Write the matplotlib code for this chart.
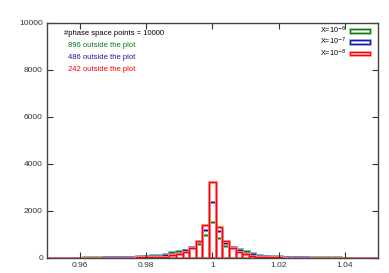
import numpy as np
import matplotlib
matplotlib.use("Agg")
import matplotlib.pyplot as plt
from matplotlib.patches import Patch
from matplotlib.legend_handler import HandlerTuple

plt.rcParams['font.family'] = ['Liberation Sans', 'DejaVu Sans']

# bin centres, width 0.002, from 0.950 to 1.050
bin_width = 0.002
centers = np.round(0.95 + bin_width * np.arange(51), 3)

counts_1e6 = [10, 11, 12, 14, 16, 18, 21, 24, 28, 32, 37, 43, 50, 60, 72, 88, 110, 140,
              180, 255, 310, 355, 470, 595, 980, 1510, 870, 510, 470, 370, 300, 210, 140,
              105, 85, 70, 60, 50, 44, 38, 33, 29, 26, 23, 21, 19, 17, 15, 14, 13, 12]
counts_1e7 = [8, 9, 10, 11, 12, 14, 16, 18, 20, 23, 27, 32, 38, 45, 54, 65, 80, 95,
              115, 155, 225, 325, 480, 680, 1190, 2380, 1150, 625, 455, 340, 225, 155, 100,
              75, 60, 48, 40, 34, 28, 24, 20, 18, 16, 14, 12, 11, 10, 9, 8, 8, 7]
counts_1e8 = [4, 4, 5, 5, 6, 6, 7, 8, 9, 10, 12, 14, 16, 19, 23, 28, 35, 44,
              55, 113, 185, 270, 410, 735, 1400, 3240, 1330, 710, 425, 270, 170, 100, 55,
              40, 30, 24, 20, 16, 14, 12, 10, 9, 8, 7, 6, 6, 5, 5, 4, 4, 4]

labels = ["X=10$^{-6}$", "X=10$^{-7}$", "X=10$^{-8}$"]
outside = [896, 486, 242]
n_points = 10000
dark = ["#137a13", "#1c1ca0", "#ff0000"]
light = ["#86c286", "#8c8cd6", "#ff8c8c"]

fig = plt.figure(figsize=(3.89, 2.73), dpi=100)
ax = fig.add_axes([0.121, 0.055, 0.850, 0.861])

handles = []
for counts, dc, lc in zip([counts_1e6, counts_1e7, counts_1e8], dark, light):
    ax.bar(centers, counts, width=bin_width, fill=False, edgecolor=lc, linewidth=2.0)
    ax.bar(centers, counts, width=bin_width, fill=False, edgecolor=dc, linewidth=0.9)
    handles.append((Patch(facecolor="none", edgecolor=lc, linewidth=1.8),
                    Patch(facecolor="none", edgecolor=dc, linewidth=0.8)))

ax.set_xlim(0.95, 1.05)
ax.set_ylim(0, 10000)
ax.set_xticks([0.96, 0.98, 1.0, 1.02, 1.04])
ax.set_xticklabels(["0.96", "0.98", "1", "1.02", "1.04"])
ax.set_yticks(np.arange(0, 10001, 2000))
ax.tick_params(direction="in", length=4, width=0.8, labelsize=6, colors="#333333",
               top=True, right=True, pad=3)
for s in ax.spines.values():
    s.set_color("#444444")
    s.set_linewidth(1.0)

ax.text(0.051, 0.953, "#phase space points = %d" % n_points, transform=ax.transAxes,
        fontsize=5.5, va="center", ha="left", color="black")
for i, (n, c) in enumerate(zip(outside, dark)):
    ax.text(0.064, 0.902 - 0.051 * i, "%d outside the plot" % n, transform=ax.transAxes,
            fontsize=5.5, va="center", ha="left", color=c)

ax.legend(handles, labels, handler_map={tuple: HandlerTuple(ndivide=1, pad=0)},
          loc="upper right", bbox_to_anchor=(0.985, 1.005), frameon=False, markerfirst=False,
          fontsize=5.2, handlelength=2.8, handleheight=0.45, labelspacing=0.0,
          handletextpad=0.5, borderaxespad=0.2, borderpad=0.2)

fig.savefig("out.png", dpi=100)
